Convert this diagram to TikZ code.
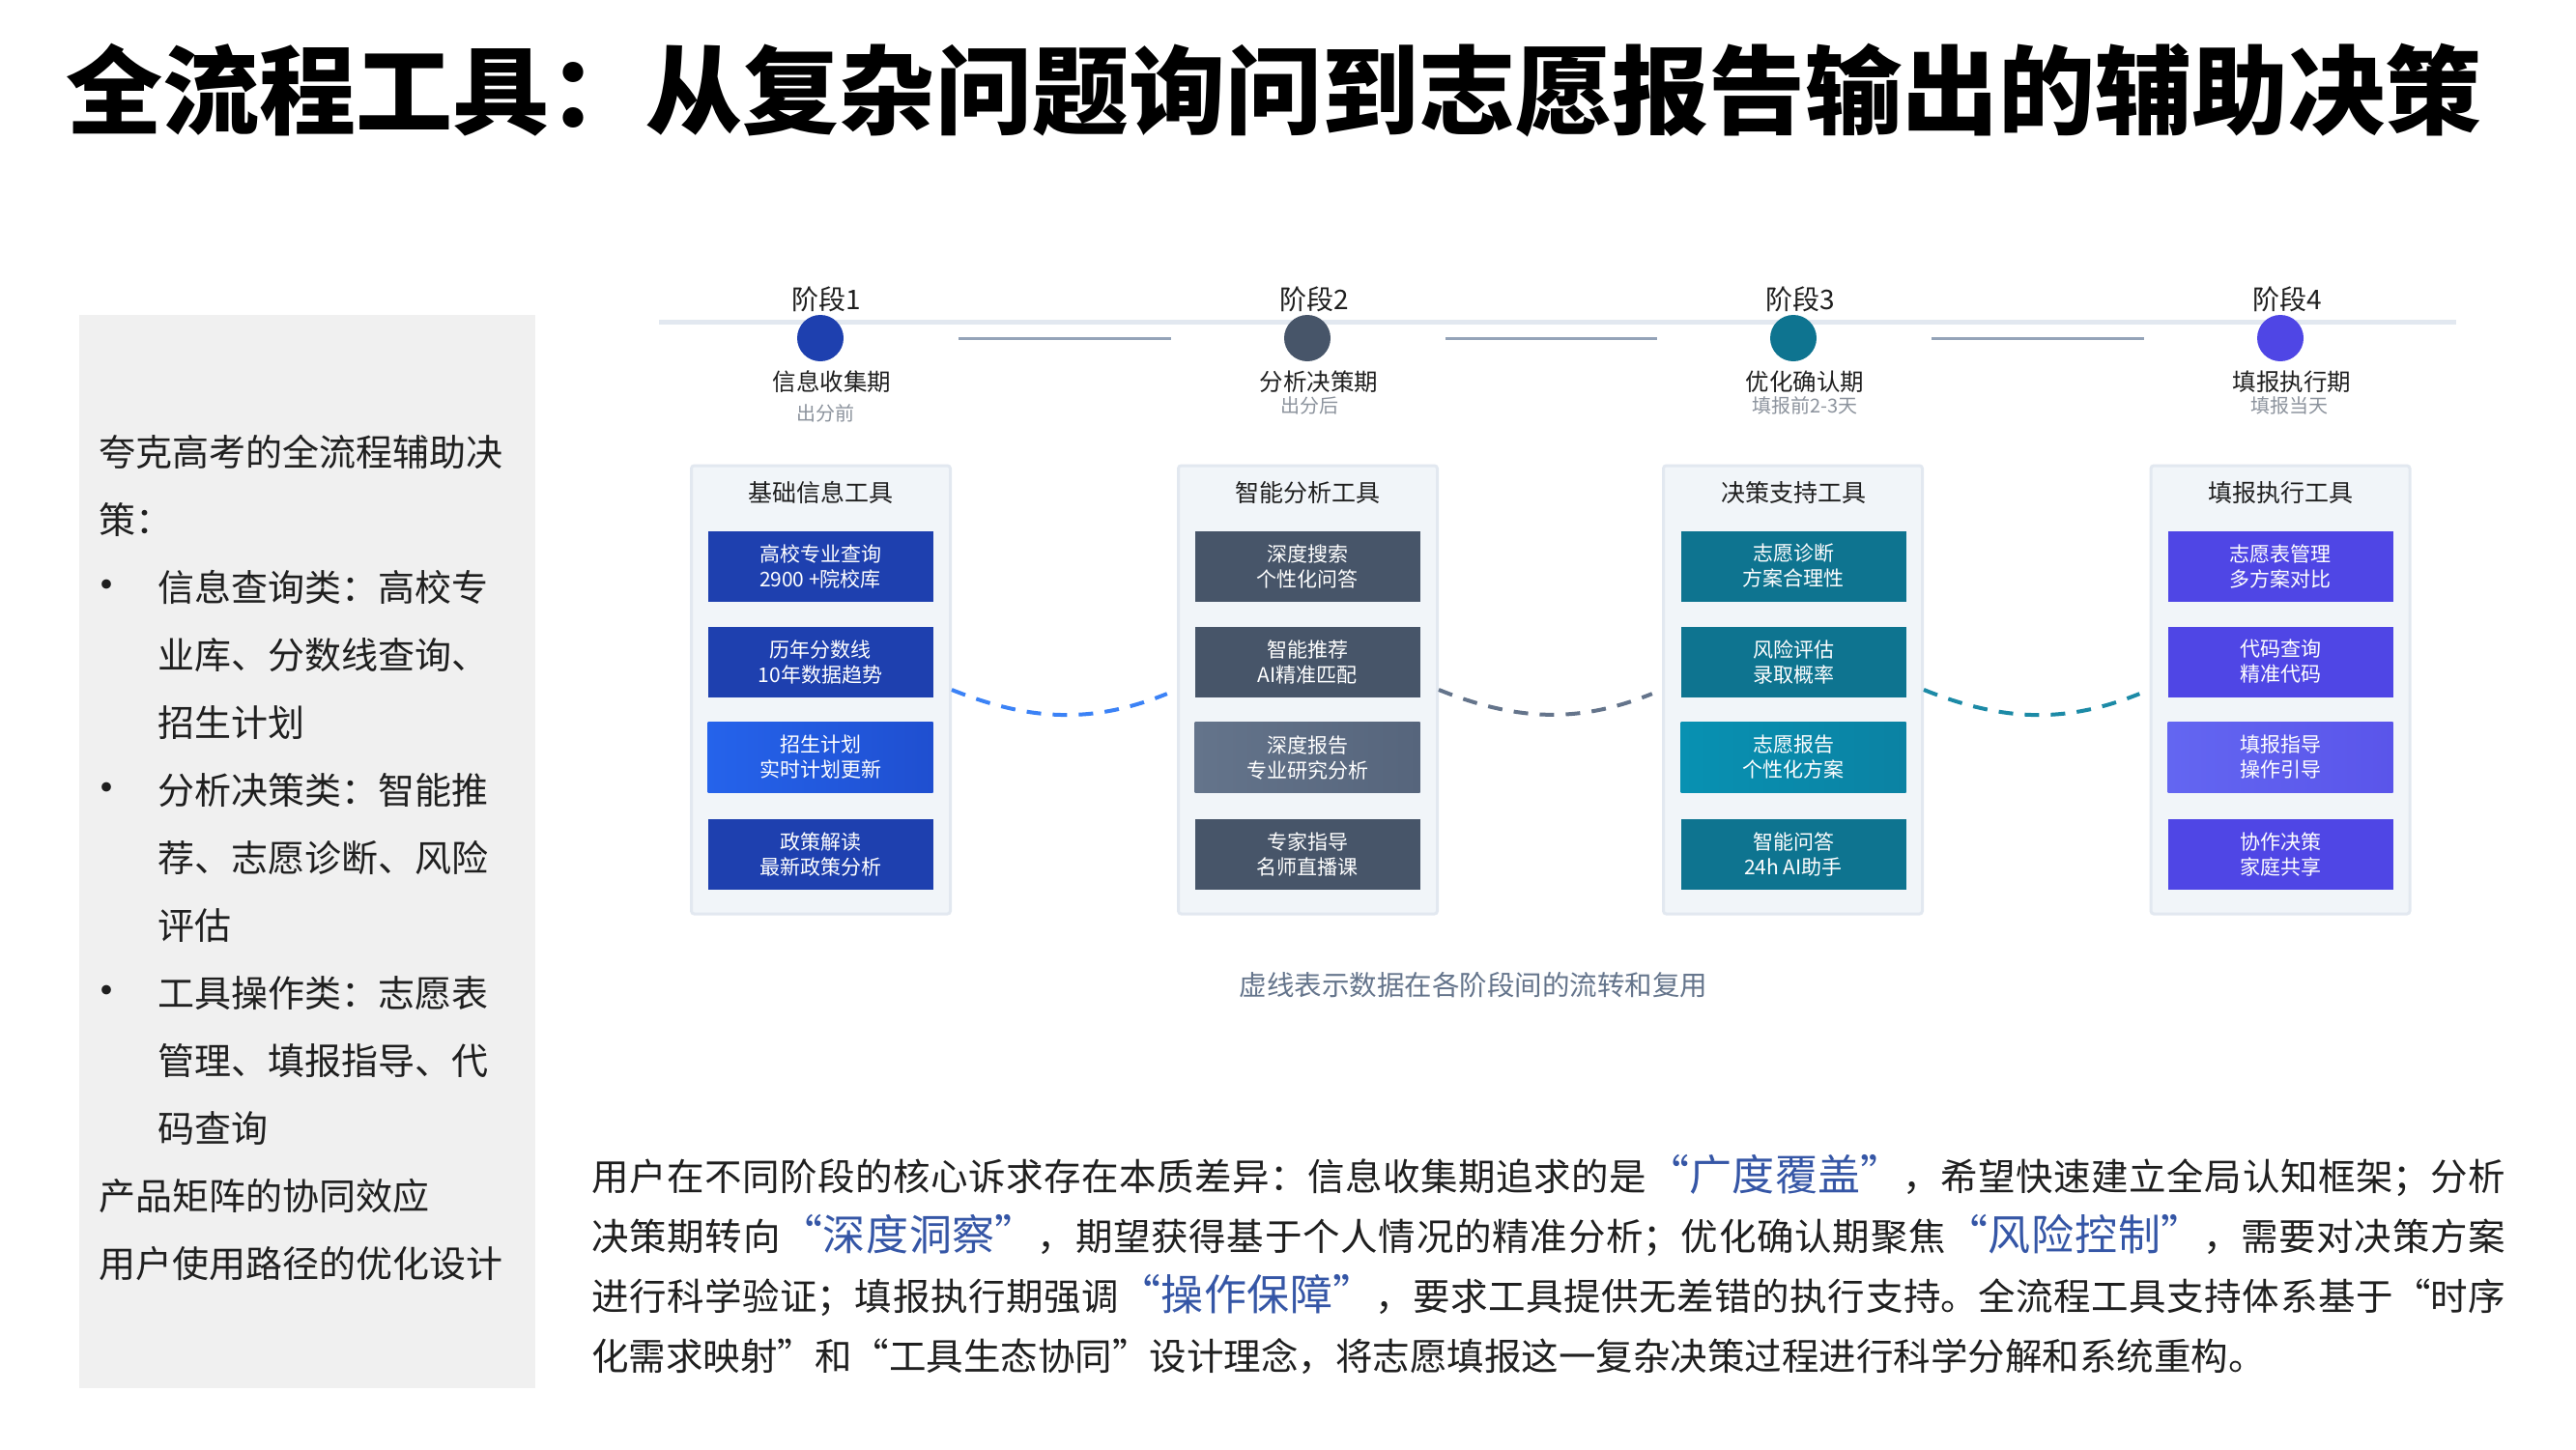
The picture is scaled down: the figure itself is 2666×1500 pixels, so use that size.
\documentclass[tikz,border=0pt]{standalone}
\usepackage{fontspec}
\setmainfont{Noto Sans CJK SC}
\usepackage{tikz}
\usetikzlibrary{positioning,calc}
\XeTeXlinebreaklocale "zh"
\XeTeXlinebreakskip=0pt plus 3pt
\definecolor{gkink}{HTML}{1F1F1F}
\definecolor{gkmuted}{HTML}{8C939D}
\definecolor{gknotec}{HTML}{64748B}
\definecolor{gkpanelbg}{HTML}{F0F0F0}
\definecolor{gkrailc}{HTML}{E2E8F0}
\definecolor{gklinkc}{HTML}{94A3B8}
\definecolor{gkcolbg}{HTML}{F1F5F9}
\definecolor{gkcolline}{HTML}{E2E8F0}
\definecolor{gkblue}{HTML}{1E40AF}
\definecolor{gkslate}{HTML}{475569}
\definecolor{gkteal}{HTML}{0E7490}
\definecolor{gkindigo}{HTML}{4F46E5}
\definecolor{gkbluehi}{HTML}{2563EB}
\definecolor{gkbluelo}{HTML}{1F4FD0}
\definecolor{gkslatehi}{HTML}{64748B}
\definecolor{gkslatelo}{HTML}{56657C}
\definecolor{gktealhi}{HTML}{0891B2}
\definecolor{gkteallo}{HTML}{0B82A3}
\definecolor{gkindigohi}{HTML}{6366F1}
\definecolor{gkindigolo}{HTML}{5A55EA}
\definecolor{gkflowblue}{HTML}{3B82F6}
\definecolor{gkflowslate}{HTML}{64748B}
\definecolor{gkflowteal}{HTML}{1C8AA6}
\definecolor{gkaccent}{HTML}{3556A6}
\tikzset{
  gktitle/.style={anchor=west, inner sep=0pt, text=black, font=\fontsize{100}{110}\selectfont\bfseries},
  gkdot/.style={circle, minimum size=48pt, inner sep=0pt},
  gkphase/.style={inner sep=0pt, text=gkink, font=\fontsize{28}{30}\selectfont},
  gkname/.style={inner sep=0pt, text=gkink, font=\fontsize{24.5}{28}\selectfont},
  gkwhen/.style={inner sep=0pt, text=gkmuted, font=\fontsize{20}{24}\selectfont},
  gkcol/.style={draw=gkcolline, line width=3pt, fill=gkcolbg, rounded corners=3pt, minimum width=268pt, minimum height=464pt},
  gkhead/.style={inner sep=0pt, text=gkink, font=\fontsize{25}{28}\selectfont},
  gktool/.style={minimum width=233pt, minimum height=73pt, inner sep=0pt, align=center, text=white, font=\fontsize{21}{26}\selectfont},
  gklink/.style={line width=3pt, draw=gklinkc},
  gkflow/.style={line width=4pt, dash pattern=on 15pt off 12pt, bend right=22},
  gknote/.style={inner sep=0pt, text=gknotec, font=\fontsize{28.5}{32}\selectfont},
}
\newcommand{\gkhl}[1]{{\color{gkaccent}\fontsize{44}{62}\selectfont #1}}
\newcommand{\gkdotitem}{\makebox[61pt][l]{\hspace*{-15pt}\fontsize{46}{70}\selectfont •}}

\begin{document}
\begin{tikzpicture}[x=1pt, y=-1pt]
  \useasboundingbox[fill=white] (0,0) rectangle (2666,1500);

  \node[gktitle] (title) at (68,94) {全流程工具：从复杂问题询问到志愿报告输出的辅助决策};

  % left summary panel
  \fill[gkpanelbg] (82,326) rectangle (554,1437);
  \node[anchor=north west, inner sep=0pt, align=left, text=gkink, font=\fontsize{38}{70}\selectfont] (summary) at (102,450) {%
    夸克高考的全流程辅助决\\
    策：\\
    \gkdotitem 信息查询类：高校专\\
    \hspace*{61pt}业库、分数线查询、\\
    \hspace*{61pt}招生计划\\
    \gkdotitem 分析决策类：智能推\\
    \hspace*{61pt}荐、志愿诊断、风险\\
    \hspace*{61pt}评估\\
    \gkdotitem 工具操作类：志愿表\\
    \hspace*{61pt}管理、填报指导、代\\
    \hspace*{61pt}码查询\\
    产品矩阵的协同效应\\
    用户使用路径的优化设计};

  % timeline
  \draw[line width=5pt, draw=gkrailc] (682,333) -- (2542,333);
  \node[gkdot, fill=gkblue] (info) at (849,350) {};
  \node[gkdot, fill=gkslate] (analy) at (1353,350) {};
  \node[gkdot, fill=gkteal] (confirm) at (1856,350) {};
  \node[gkdot, fill=gkindigo] (submit) at (2360,350) {};
  \draw[gklink, shorten <=119pt, shorten >=117pt] (info) -- (analy);
  \draw[gklink, shorten <=119pt, shorten >=117pt] (analy) -- (confirm);
  \draw[gklink, shorten <=119pt, shorten >=117pt] (confirm) -- (submit);

  \node[gkphase] (p1) at (855,310) {阶段1};
  \node[gkphase] (p2) at (1360,310) {阶段2};
  \node[gkphase] (p3) at (1863,310) {阶段3};
  \node[gkphase] (p4) at (2367,310) {阶段4};
  \node[gkname] (n1) at (861,395) {信息收集期};
  \node[gkname] (n2) at (1365,395) {分析决策期};
  \node[gkname] (n3) at (1868,395) {优化确认期};
  \node[gkname] (n4) at (2372,395) {填报执行期};
  \node[gkwhen] (w1) at (854,428) {出分前};
  \node[gkwhen] (w2) at (1355,420) {出分后};
  \node[gkwhen] (w3) at (1868,420) {填报前2-3天};
  \node[gkwhen] (w4) at (2369,420) {填报当天};

  % tool columns
  \node[gkcol] (infocol) at (849.5,714) {};
  \node[gkcol] (analycol) at (1353.5,714) {};
  \node[gkcol] (confirmcol) at (1855.5,714) {};
  \node[gkcol] (submitcol) at (2360,714) {};
  \node[gkhead] (h1) at (849,510) {基础信息工具};
  \node[gkhead] (h2) at (1353,510) {智能分析工具};
  \node[gkhead] (h3) at (1856,510) {决策支持工具};
  \node[gkhead] (h4) at (2360,510) {填报执行工具};

  \node[gktool, fill=gkblue] (major) at (849,586) {高校专业查询\\2900 +院校库};
  \node[gktool, fill=gkblue] (score) at (849,685) {历年分数线\\10年数据趋势};
  \node[gktool, left color=gkbluehi, right color=gkbluelo] (plan) at (849,784) {招生计划\\实时计划更新};
  \node[gktool, fill=gkblue] (policy) at (849,884) {政策解读\\最新政策分析};

  \node[gktool, fill=gkslate] (search) at (1353,586) {深度搜索\\个性化问答};
  \node[gktool, fill=gkslate] (recom) at (1353,685) {智能推荐\\AI精准匹配};
  \node[gktool, left color=gkslatehi, right color=gkslatelo] (report) at (1353,784) {深度报告\\专业研究分析};
  \node[gktool, fill=gkslate] (expert) at (1353,884) {专家指导\\名师直播课};

  \node[gktool, fill=gkteal] (diag) at (1856,586) {志愿诊断\\方案合理性};
  \node[gktool, fill=gkteal] (risk) at (1856,685) {风险评估\\录取概率};
  \node[gktool, left color=gktealhi, right color=gkteallo] (vreport) at (1856,784) {志愿报告\\个性化方案};
  \node[gktool, fill=gkteal] (qa) at (1856,884) {智能问答\\24h AI助手};

  \node[gktool, fill=gkindigo] (table) at (2360,586) {志愿表管理\\多方案对比};
  \node[gktool, fill=gkindigo] (code) at (2360,685) {代码查询\\精准代码};
  \node[gktool, left color=gkindigohi, right color=gkindigolo] (guide) at (2360,784) {填报指导\\操作引导};
  \node[gktool, fill=gkindigo] (collab) at (2360,884) {协作决策\\家庭共享};

  \draw[gkflow, draw=gkflowblue, shorten >=11pt] (infocol.east) to (analycol.west);
  \draw[gkflow, draw=gkflowslate, shorten >=11pt] (analycol.east) to (confirmcol.west);
  \draw[gkflow, draw=gkflowteal, shorten >=11pt] (confirmcol.east) to (submitcol.west);

  \node[gknote] (note) at (1525,1020) {虚线表示数据在各阶段间的流转和复用};

  % bottom paragraph
  \node[anchor=north west, inner sep=0pt, text width=1981pt, align=justify, text=gkink, font=\fontsize{38.5}{62}\selectfont] (story) at (612,1195) {%
    用户在不同阶段的核心诉求存在本质差异：信息收集期追求的是\gkhl{“广度覆盖”}，希望快速建立全局认知框架；分析\linebreak
    决策期转向\gkhl{“深度洞察”}，期望获得基于个人情况的精准分析；优化确认期聚焦\gkhl{“风险控制”}，需要对决策方案\linebreak
    进行科学验证；填报执行期强调\gkhl{“操作保障”}，要求工具提供无差错的执行支持。全流程工具支持体系基于“时序\linebreak
    化需求映射”和“工具生态协同”设计理念，将志愿填报这一复杂决策过程进行科学分解和系统重构。};
\end{tikzpicture}
\end{document}
